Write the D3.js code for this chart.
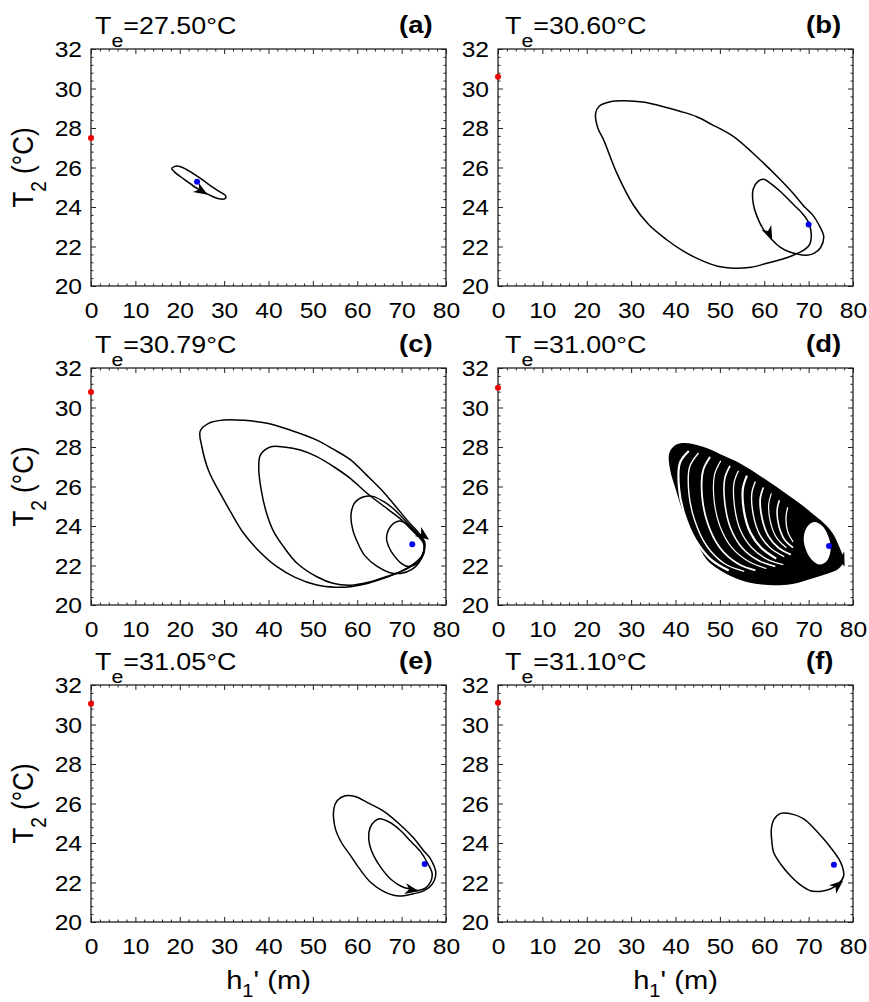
<!DOCTYPE html>
<meta charset="utf-8">
<body style="margin:0;background:#fff">

<style>
  text {
      font-family: "Liberation Sans", Arial, sans-serif;
      fill: #000;
  }
  .box {
      fill: none;
      stroke: #222;
      stroke-width: 1.3;
  }
  .axis path { display: none; }
  .axis line { stroke: #222; stroke-width: 1; }
  .axis text { font-size: 22px; }
  .orbit {
      fill: none;
      stroke: #000;
      stroke-width: 1.5;
      stroke-linejoin: round;
  }
  .gap {
      fill: none;
      stroke: #fff;
  }
</style>
<svg width="869" height="1002"></svg>
<script src="https://d3js.org/d3.v7.min.js"></script>
<script>

// ---- data ----
var panelTags = ["(a)", "(b)", "(c)", "(d)", "(e)", "(f)"];
var teLabels = ["27.50", "30.60", "30.79", "31.00", "31.05", "31.10"];
var redDotT = [27.5, 30.6, 30.79, 31.0, 31.05, 31.1];
var blueDots = [[23.9, 25.28], [70.0, 23.12], [72.4, 23.07], [74.6, 22.99], [75.2, 22.94], [75.7, 22.9]];

var xTicks = [0, 10, 20, 30, 40, 50, 60, 70, 80];
var yTicks = [20, 22, 24, 26, 28, 30, 32];

// (a) small limit cycle
var orbitA = [[18.2,25.95],[19.4,26.07],[21.5,25.9],[24,25.55],[26.5,25.15],[28.8,24.8],[30.4,24.55],
  [30.2,24.42],[28.8,24.42],[26.3,24.65],[23.5,25.0],[21,25.4],[18.8,25.78]];

// (b) period-2 orbit
var orbitB = [[61.8,22.33],[63.5,21.98],[65.3,21.76],[67.4,21.62],[69.5,21.56],[71.2,21.65],[72.7,21.95],
  [73.4,22.5],[72.3,23.1],[70.9,23.6],[69.1,24.0],[66.5,24.7],[63.7,25.37],[59.1,26.38],[53.1,27.56],
  [48.0,28.2],[44.8,28.57],[41.0,28.85],[37.3,29.08],[33.0,29.3],[29.8,29.37],[25.3,29.33],[22.8,29.1],
  [22.0,28.74],[22.5,28.0],[23.8,27.4],[26.8,25.7],[30.5,24.1],[34,23.1],[38.1,22.33],[41.5,21.8],
  [45.6,21.32],[49.5,21.0],[53.1,20.9],[57,20.95],[60.6,21.15],[64,21.35],[66.7,21.57],[68.8,21.8],
  [70.2,22.1],[70.6,22.6],[70.2,23.1],[69.7,23.34],[68.3,23.75],[66.7,24.1],[63.7,24.77],[61.4,25.2],
  [59.9,25.4],[58.6,25.3],[57.5,24.9],[57.5,24.2],[58.4,23.5],[60.0,22.8]];

// (c) four loops of the period-4 orbit
var loopC1 = [[75.2,23.0],[74.0,23.6],[72.0,24.1],[69,24.9],[66.0,25.7],[62,26.6],[58.5,27.35],[54.5,27.9],
  [50.9,28.35],[45,28.85],[39.7,29.2],[34.5,29.35],[29.9,29.37],[26.5,29.2],[24.6,28.8],[25.0,28.0],
  [26.5,26.8],[29.1,25.66],[31.5,24.7],[34.4,23.63],[38,22.7],[41.9,21.94],[46,21.4],[50.9,21.01],
  [55,20.9],[58.5,20.93],[62.5,21.1],[66.0,21.35],[69.5,21.65],[72.5,22.0],[74.6,22.4]];
var loopC2 = [[75.0,23.1],[72.5,23.75],[69.8,24.35],[66,25.0],[62.2,25.66],[58.5,26.4],[54.7,27.0],
  [51,27.5],[47.2,27.85],[43.5,28.0],[40.4,28.0],[38.2,27.6],[37.8,27.0],[38.3,25.9],[39.5,24.7],
  [41.2,23.7],[43.4,22.95],[46.5,22.1],[50.9,21.43],[54.5,21.1],[58.5,21.0],[62.5,21.15],[66.0,21.4],
  [69.8,21.7],[72.8,22.1],[74.6,22.5]];
var loopC3 = [[75.0,23.1],[73.0,23.7],[70.5,24.35],[68,24.9],[66,25.23],[63.5,25.5],[61.5,25.48],
  [59.5,25.2],[58.6,24.6],[59.0,23.8],[60.0,23.2],[61.7,22.5],[64.5,21.95],[67.2,21.65],[69.8,21.6],
  [72.3,21.8],[74.3,22.3]];
var loopC4 = [[75.2,23.2],[73.5,23.65],[71.5,24.05],[69.5,24.25],[67.6,24.0],[66.6,23.4],[67.2,22.9],
  [68.3,22.5],[70,22.1],[71.5,21.95],[73.5,22.1],[74.8,22.6]];

// (d) chaotic attractor: outer edge, inner hole, and the white streaks between bands
var attractorOuter = [[38.6,27.7],[40,28.1],[42,28.2],[46,28.02],[50,27.65],[54.6,27.17],[60,26.4],
  [65.9,25.48],[70.5,24.7],[74.9,23.8],[77.0,22.9],[77.9,22.2],[76.5,21.8],[73,21.5],[69.7,21.27],
  [66,21.05],[62.1,21.0],[58,21.08],[54.6,21.27],[50.5,21.7],[47.1,22.28],[44.5,23.3],[41.8,24.64],
  [40,25.9],[38.8,26.84]];
var attractorHole = [[68.9,23.25],[69.5,23.9],[71.2,24.2],[73.1,24.0],[74.7,23.3],[74.9,22.7],[74,22.2],
  [72.4,22.05],[70.3,22.4]];
var attractorGaps = [
  [[43.0,27.8],[41.0,27.2],[40.8,25.9],[42.0,24.6],[44.5,23.3],[48,22.3],[52,21.75]],
  [[45.2,27.7],[43.2,27.0],[43.0,25.7],[44.3,24.3],[47,23.0],[51,22.1],[55.5,21.7]],
  [[47.8,27.5],[46.2,26.8],[46.0,25.5],[47.3,24.1],[50,22.9],[54,22.1],[58,21.75]],
  [[50.2,27.3],[48.8,26.6],[48.7,25.3],[50,24.0],[52.7,22.9],[56.5,22.2],[60.5,21.85]],
  [[52.3,27.05],[51.1,26.4],[51.1,25.2],[52.4,23.9],[55,22.9],[58.7,22.25],[62.5,21.95]],
  [[54.2,26.8],[53.2,26.2],[53.3,25.0],[54.6,23.8],[57.2,22.9],[60.8,22.3],[64.3,22.05]],
  [[56.1,26.55],[55.2,25.9],[55.4,24.8],[56.8,23.7],[59.3,22.9],[62.7,22.35]],
  [[58.0,26.25],[57.2,25.65],[57.5,24.6],[58.9,23.6],[61.3,22.9],[64.5,22.45]],
  [[59.8,25.95],[59.1,25.4],[59.5,24.4],[60.9,23.5],[63.2,22.9],[66,22.55]],
  [[61.6,25.65],[61.0,25.1],[61.4,24.2],[62.8,23.4],[65,22.9]],
  [[63.4,25.3],[62.9,24.8],[63.3,24.0],[64.6,23.3],[66.5,22.9]],
  [[65.3,24.95],[64.9,24.45],[65.3,23.7],[66.5,23.2]]
];

// (e) period-2 orbit, two loops
var loopE1 = [[77.7,22.5],[76.5,23.2],[75.0,23.6],[72.5,24.3],[69.8,24.9],[66,25.6],[62.2,26.06],
  [59.5,26.35],[57.3,26.39],[55.5,26.15],[54.7,25.7],[55.1,24.7],[56.5,24.0],[58.5,23.36],[60.5,22.7],
  [63.0,22.01],[65.5,21.6],[68.2,21.35],[70.5,21.33],[72.5,21.42],[75.0,21.58],[76.9,21.92]];
var loopE2 = [[76.9,22.4],[75.8,23.0],[74.3,23.55],[72,24.1],[69.8,24.62],[67.3,25.05],[64.9,25.22],
  [63.3,24.95],[62.6,24.5],[62.8,23.9],[63.7,23.36],[65.5,22.7],[67.5,22.18],[70,21.8],[72,21.67],
  [73.9,21.6],[75.8,21.8]];

// (f) limit cycle
var orbitF = [[77.9,22.34],[77.6,22.8],[76.8,23.19],[75.2,23.7],[73.4,24.2],[71.2,24.75],[68.9,25.22],
  [66.5,25.45],[63.7,25.5],[62.2,25.2],[61.6,24.71],[61.7,24.1],[62.1,23.53],[63.8,22.9],[65.9,22.34],
  [68,21.9],[70.4,21.58],[72.5,21.55],[74.9,21.67],[76.8,21.95]];

// closed loops per panel
var panelLoops = [[orbitA], [orbitB], [loopC1, loopC2, loopC3, loopC4], [], [loopE1, loopE2], [orbitF]];

// direction arrows: [from, to] in data units
var arrowSegs = [
  [[24.3,24.9],[26.3,24.62]],
  [[60.4,23.0],[61.8,22.33]],
  [[74.4,23.6],[76.2,23.3]],
  [[76.9,22.6],[78.1,21.95]],
  [[71.6,21.66],[73.9,21.56]],
  [[75.8,21.72],[77.8,22.1]]
];

// ---- layout ----
var svg = d3.select("svg");
var colLeft = [91, 498], rowTop = [49, 368, 685];
var pw = 355, ph = 237;
var sx = 1.12;   // figure is a bit wider than tall, stretch text to match

var x = d3.scaleLinear().domain([0, 80]).range([0, pw]);
var y = d3.scaleLinear().domain([20, 32]).range([ph, 0]);
var xMinor = d3.range(0, 81, 2).filter(function (v) { return v % 10; });
var yMinor = d3.range(20, 32.01, 0.4).filter(function (v) { return Math.abs(v / 2 - Math.round(v / 2)) > 0.05; });

var loopLine = d3.line()
    .x(function (d) { return x(d[0]); })
    .y(function (d) { return y(d[1]); })
    .curve(d3.curveCatmullRomClosed.alpha(0.5));
var openLine = d3.line()
    .x(function (d) { return x(d[0]); })
    .y(function (d) { return y(d[1]); })
    .curve(d3.curveCatmullRom.alpha(0.5));

function stretch(sel) {
    sel.attr("transform", "scale(" + sx + ",1)");
}

panelTags.forEach(function (tag, i) {
    var col = i % 2, row = Math.floor(i / 2);
    var left = colLeft[col], top = rowTop[row];
    var g = svg.append("g").attr("transform", "translate(" + left + "," + top + ")");

    // axes, ticks inward on all four sides
    g.append("g").attr("class", "axis").attr("transform", "translate(0," + ph + ")")
        .call(d3.axisBottom(x).tickValues(xTicks).tickSize(-5).tickSizeOuter(0).tickPadding(16))
        .selectAll("text").call(stretch);
    g.append("g").attr("class", "axis").attr("transform", "translate(0," + ph + ")")
        .call(d3.axisBottom(x).tickValues(xMinor).tickSize(-2.5).tickSizeOuter(0).tickFormat(""));
    g.append("g").attr("class", "axis")
        .call(d3.axisTop(x).tickValues(xTicks).tickSize(-5).tickSizeOuter(0).tickFormat(""));
    g.append("g").attr("class", "axis")
        .call(d3.axisTop(x).tickValues(xMinor).tickSize(-2.5).tickSizeOuter(0).tickFormat(""));
    g.append("g").attr("class", "axis")
        .call(d3.axisLeft(y).tickValues(yTicks).tickSize(-5).tickSizeOuter(0).tickPadding(8))
        .selectAll("text").attr("dy", "0.36em").call(stretch);
    g.append("g").attr("class", "axis")
        .call(d3.axisLeft(y).tickValues(yMinor).tickSize(-2.5).tickSizeOuter(0).tickFormat(""));
    g.append("g").attr("class", "axis").attr("transform", "translate(" + pw + ",0)")
        .call(d3.axisRight(y).tickValues(yTicks).tickSize(-5).tickSizeOuter(0).tickFormat(""));
    g.append("g").attr("class", "axis").attr("transform", "translate(" + pw + ",0)")
        .call(d3.axisRight(y).tickValues(yMinor).tickSize(-2.5).tickSizeOuter(0).tickFormat(""));

    // attractor in (d)
    if (i === 3) {
        g.append("path").attr("d", loopLine(attractorOuter)).attr("fill", "#000");
        g.selectAll(".gap").data(attractorGaps).enter().append("path")
            .attr("class", "gap")
            .attr("stroke-width", function (d, k) { return [2.2, 1.4, 1.8, 1.2, 1.6, 1.3][k % 6]; })
            .attr("d", openLine);
        g.append("path").attr("d", loopLine(attractorHole)).attr("fill", "#fff");
    }

    g.selectAll(".orbit").data(panelLoops[i]).enter().append("path")
        .attr("class", "orbit")
        .attr("d", loopLine);

    // arrow head
    var a = arrowSegs[i];
    var ang = Math.atan2(y(a[1][1]) - y(a[0][1]), x(a[1][0]) - x(a[0][0])) * 180 / Math.PI;
    g.append("path")
        .attr("d", "M0,0L-14,-5.5L-10,0L-14,5.5Z")
        .attr("fill", "#000")
        .attr("transform", "translate(" + x(a[1][0]) + "," + y(a[1][1]) + ") rotate(" + ang + ")");

    g.append("rect").attr("class", "box").attr("width", pw).attr("height", ph);

    // equilibria
    g.append("circle").attr("cx", x(0)).attr("cy", y(redDotT[i])).attr("r", 3).attr("fill", "#f00000");
    g.append("circle").attr("cx", x(blueDots[i][0])).attr("cy", y(blueDots[i][1])).attr("r", 3).attr("fill", "#0000ee");

    // title T_e = ...
    var t = svg.append("text")
        .attr("transform", "translate(" + (left + 4 + col * 3) + "," + (top - 15.5) + ") scale(" + sx + ",1)")
        .style("font-size", "24px");
    t.append("tspan").text("T");
    t.append("tspan").attr("dy", 13.5).style("font-size", "19px").text("e");
    t.append("tspan").attr("dy", -13.5).text("=" + teLabels[i] + "\u00b0C");

    svg.append("text")
        .attr("transform", "translate(" + (left + 308) + "," + (top - 16) + ") scale(" + sx + ",1)")
        .style("font-size", "24.5px").style("font-weight", "bold")
        .text(tag);

    if (col === 0) {
        var yl = svg.append("text")
            .attr("transform", "translate(33," + (top + ph / 2) + ") scale(" + sx + ",1) rotate(-90)")
            .attr("text-anchor", "middle")
            .style("font-size", "26px");
        yl.append("tspan").text("T");
        yl.append("tspan").attr("dy", 12).style("font-size", "19px").text("2");
        yl.append("tspan").attr("dy", -12).text(" (\u00b0C)");
    }
    if (row === 2) {
        var xl = svg.append("text")
            .attr("transform", "translate(" + (left + pw / 2) + ",989) scale(" + sx + ",1)")
            .attr("text-anchor", "middle")
            .style("font-size", "26px");
        xl.append("tspan").text("h");
        xl.append("tspan").attr("dy", 8).style("font-size", "18px").text("1");
        xl.append("tspan").attr("dy", -8).text("' (m)");
    }
});

</script>
</body>
